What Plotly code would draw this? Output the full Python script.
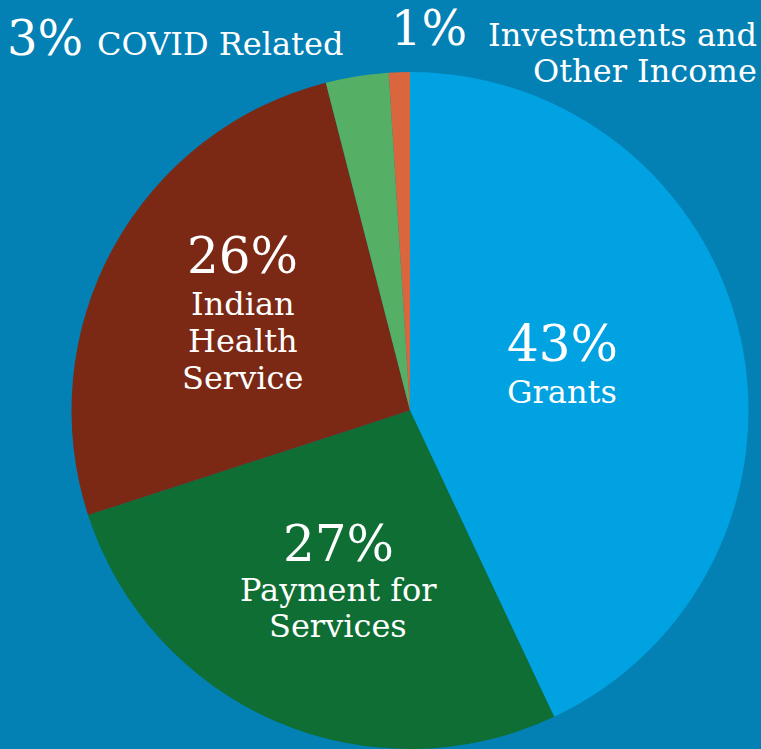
import plotly.graph_objects as go

categories = ["Grants", "Payment for Services", "Indian Health Service", "COVID Related", "Investments and Other Income"]
values = [43, 27, 26, 3, 1]
colors = ["#00A2E1", "#0E6E33", "#7B2914", "#55B066", "#D9663C"]

BG = "#0380B4"
FONT = "DejaVu Serif"
W, H = 761, 749

cx, cy, r = 410, 411, 339

fig = go.Figure(go.Pie(
    labels=categories,
    values=values,
    marker=dict(colors=colors, line=dict(width=0)),
    sort=False,
    direction="clockwise",
    rotation=0,
    textinfo="none",
    hoverinfo="label+percent",
    showlegend=False,
    domain=dict(x=[(cx - r) / W, (cx + r) / W], y=[(H - cy - r + 1) / H, (H - cy + r) / H]),
))

def px(x):
    return x / W

def py(y):
    return 1 - y / H

ann = []
def add(text, x, y, size, xanchor="center"):
    ann.append(dict(text=text, x=px(x), y=py(y), xref="paper", yref="paper",
                    xanchor=xanchor, yanchor="middle", showarrow=False,
                    font=dict(family=FONT, size=size, color="white")))

pct = [f"{v}%" for v in values]
LBL = 32
PCT = 50

# Grants
add(pct[0], 562, 344, PCT)
add("Grants", 562, 392, LBL)
# Payment for Services
add(pct[1], 338, 544, PCT)
add("Payment for", 338, 590, LBL)
add("Services", 338, 626, LBL)
# Indian Health Service
add(pct[2], 243, 256, PCT)
add("Indian", 243, 304, LBL)
add("Health", 243, 341, LBL)
add("Service", 243, 378, LBL)
# COVID Related
add(pct[3], 5, 38, 48, "left")
add("COVID Related", 95, 44, LBL, "left")
# Investments
add(pct[4], 389, 28, 48, "left")
add("Investments and", 759, 35, LBL, "right")
add("Other Income", 759, 71, LBL, "right")

fig.update_layout(
    width=W, height=H,
    margin=dict(l=0, r=0, t=0, b=0),
    paper_bgcolor=BG, plot_bgcolor=BG,
    annotations=ann,
)

fig.write_html("out.html",
               config={"displayModeBar": False},
               post_script="document.body.style.margin='0';document.body.style.overflow='hidden';document.body.style.background='" + BG + "';")
